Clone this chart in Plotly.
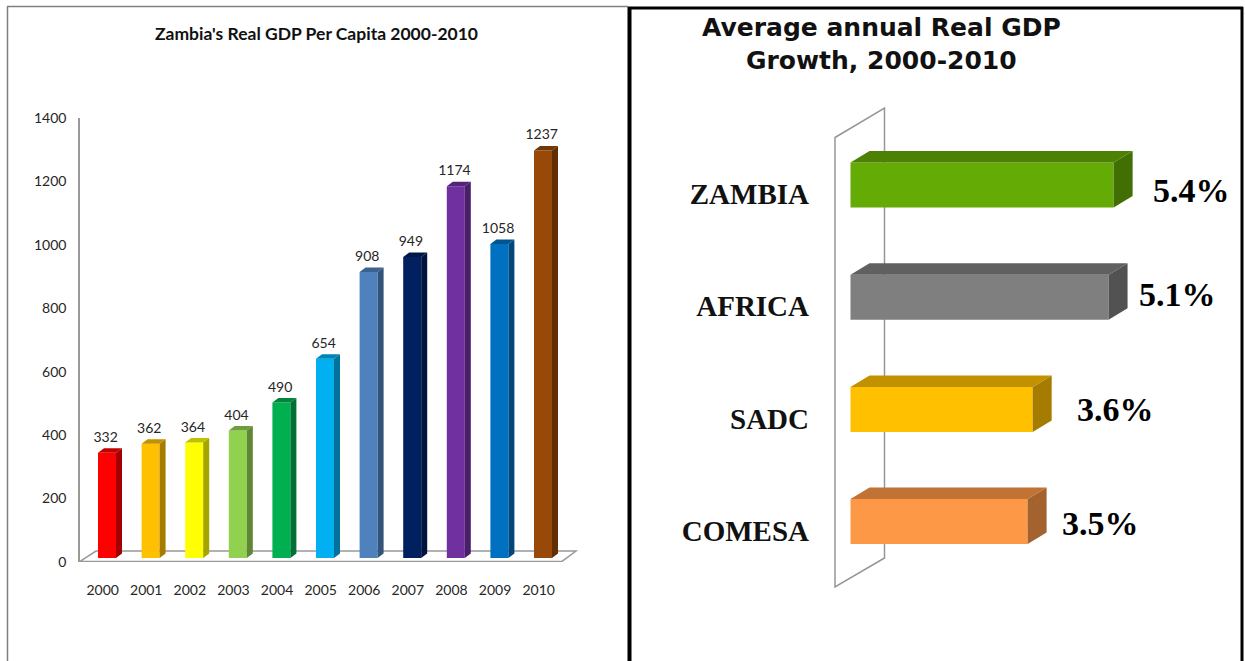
import plotly.graph_objects as go

# ---------- data ----------
years = [2000, 2001, 2002, 2003, 2004, 2005, 2006, 2007, 2008, 2009, 2010]
gdp_labels = [332, 362, 364, 404, 490, 654, 908, 949, 1174, 1058, 1237]
# heights as actually drawn in the picture (the source is not exactly to scale)
gdp_drawn = [332, 360, 364, 402, 490, 628, 902, 949, 1172, 990, 1285]
gdp_colors = ["#FF0000", "#FFC000", "#FFFF00", "#92D050", "#00B050", "#00B0F0",
              "#4F81BD", "#002060", "#7030A0", "#0070C0", "#984807"]

regions = ["ZAMBIA", "AFRICA", "SADC", "COMESA"]
growth_labels = ["5.4%", "5.1%", "3.6%", "3.5%"]
growth_drawn = [5.2, 5.1, 3.6, 3.5]
growth_colors = ["#64AB05", "#7F7F7F", "#FFC000", "#FD9847"]

# ---------- layout helpers ----------
W, H = 1245, 661
def px(v): return v / W
def py(v): return (H - v) / H

def shade(hex_color, f):
    r, g, b = (int(hex_color[i:i + 2], 16) for i in (1, 3, 5))
    return f"rgb({int(r * f)},{int(g * f)},{int(b * f)})"

def darken_side(c): return shade(c, 0.65)
def darken_top(c): return shade(c, 0.76)

fig = go.Figure()

# ---------- left chart scales ----------
L_PX_PER_X = 43.6
L_PX_PER_Y = 444 / 1400
L_X0_PX = 107              # pixel of category 0 centre
L_LEFT, L_RIGHT = 80, 600
L_BASE = 4 / L_PX_PER_Y    # bars stand a little in front of the axis zero
L_W = 18 / L_PX_PER_X
L_DX = 6 / L_PX_PER_X
L_DY = 4.5 / L_PX_PER_Y
L_TEXT_LIFT = 3 / L_PX_PER_Y
idx = list(range(len(years)))

fig.add_trace(go.Bar(
    x=idx, y=gdp_drawn, base=L_BASE, width=L_W,
    marker=dict(color=gdp_colors, line=dict(width=0)),
    xaxis="x", yaxis="y", hoverinfo="skip", showlegend=False))

for i, h, c in zip(idx, gdp_drawn, gdp_colors):
    xl, xr = i - L_W / 2, i + L_W / 2
    yt = L_BASE + h
    fig.add_trace(go.Scatter(
        x=[xr, xr + L_DX, xr + L_DX, xr, xr],
        y=[L_BASE, L_BASE + L_DY, yt + L_DY, yt, L_BASE],
        fill="toself", fillcolor=darken_side(c), mode="none",
        xaxis="x", yaxis="y", showlegend=False, hoverinfo="skip"))
    fig.add_trace(go.Scatter(
        x=[xl, xl + L_DX, xr + L_DX, xr, xl],
        y=[yt, yt + L_DY, yt + L_DY, yt, yt],
        fill="toself", fillcolor=darken_top(c), mode="none",
        xaxis="x", yaxis="y", showlegend=False, hoverinfo="skip"))

fig.add_trace(go.Scatter(
    x=[i - 0.03 for i in idx],
    y=[L_BASE + h + L_DY + L_TEXT_LIFT for h in gdp_drawn],
    mode="text", text=[str(v) for v in gdp_labels], textposition="top center",
    textfont=dict(family="Lato", size=14, color="#262626"),
    xaxis="x", yaxis="y", showlegend=False, hoverinfo="skip"))

# ---------- right chart scales ----------
R_PX_PER_X = 50.6
R_PX_PER_Y = 112.2
R_X0_PX = 850.5
R_Y0_PX = 185
R_LEFT, R_RIGHT = 815, 1240
R_TOP, R_BOTTOM = 100, 600
R_H = 45 / R_PX_PER_Y
R_DX = 19 / R_PX_PER_X
R_DY = 11.5 / R_PX_PER_Y
ridx = list(range(len(regions)))

fig.add_trace(go.Bar(
    y=ridx, x=growth_drawn, width=R_H, orientation="h",
    marker=dict(color=growth_colors, line=dict(width=0)),
    xaxis="x2", yaxis="y2", hoverinfo="skip", showlegend=False))

for i, v, c in zip(ridx, growth_drawn, growth_colors):
    yt, yb = i - R_H / 2, i + R_H / 2
    fig.add_trace(go.Scatter(
        x=[v, v + R_DX, v + R_DX, v, v],
        y=[yb, yb - R_DY, yt - R_DY, yt, yb],
        fill="toself", fillcolor=darken_side(c), mode="none",
        xaxis="x2", yaxis="y2", showlegend=False, hoverinfo="skip"))
    fig.add_trace(go.Scatter(
        x=[0, R_DX, v + R_DX, v, 0],
        y=[yt, yt - R_DY, yt - R_DY, yt, yt],
        fill="toself", fillcolor=darken_top(c), mode="none",
        xaxis="x2", yaxis="y2", showlegend=False, hoverinfo="skip"))

label_nudge_px = [18, 9, 23, 13]
label_lift_px = [-5, 3, -0.5, -1.5]
annotations = []
for i, v, t, dx, dy in zip(ridx, growth_drawn, growth_labels, label_nudge_px, label_lift_px):
    annotations.append(dict(
        x=v + R_DX, y=i, xref="x2", yref="y2", text=f"<b>{t}</b>", showarrow=False,
        xanchor="left", yanchor="middle", xshift=dx, yshift=dy,
        font=dict(family="Liberation Serif", size=34, color="#000000")))

annotations += [
    dict(x=px(316), y=py(33), xref="paper", yref="paper", showarrow=False,
         xanchor="center", yanchor="middle",
         text="<b>Zambia's Real GDP Per Capita 2000-2010</b>",
         font=dict(family="Lato", size=17.5, color="#111111")),
    dict(x=px(881), y=py(28), xref="paper", yref="paper", showarrow=False,
         xanchor="center", yanchor="middle",
         text="<b>Average annual Real GDP</b>",
         font=dict(family="DejaVu Sans", size=25, color="#111111")),
    dict(x=px(881), y=py(60), xref="paper", yref="paper", showarrow=False,
         xanchor="center", yanchor="middle",
         text="<b>Growth, 2000-2010</b>",
         font=dict(family="DejaVu Sans", size=25, color="#111111")),
]

GREY = "#999999"
def lx(p): return (p - L_X0_PX) / L_PX_PER_X
def ly(p): return (562 - p) / L_PX_PER_Y
def rx(p): return (p - R_X0_PX) / R_PX_PER_X
def ry(p): return (p - R_Y0_PX) / R_PX_PER_Y

def poly(points, xf, yf):
    return "M" + " L".join(f"{xf(a)},{yf(b)}" for a, b in points) + " Z"

shapes = [
    # floor of the left chart
    dict(type="path", xref="x", yref="y", layer="below",
         path=poly([(80, 561.4), (562, 561.4), (576, 551), (96, 551)], lx, ly),
         line=dict(color=GREY, width=1.5)),
    # upright wall of the right chart
    dict(type="path", xref="x2", yref="y2", layer="below",
         path=poly([(835, 137.5), (884.5, 108), (884.5, 558), (835, 587)], rx, ry),
         line=dict(color="#969696", width=1.5)),
    # panel frames
    dict(type="line", xref="paper", yref="paper", x0=px(7.5), x1=px(7.5), y0=0, y1=py(6.5),
         line=dict(color="#808080", width=1.5)),
    dict(type="line", xref="paper", yref="paper", x0=px(7), x1=px(628), y0=py(6.5), y1=py(6.5),
         line=dict(color="#808080", width=1.5)),
    dict(type="line", xref="paper", yref="paper", x0=px(629.5), x1=px(629.5), y0=0, y1=py(7),
         line=dict(color="#000000", width=4)),
    dict(type="line", xref="paper", yref="paper", x0=px(628), x1=px(1243), y0=py(8), y1=py(8),
         line=dict(color="#000000", width=3)),
    dict(type="line", xref="paper", yref="paper", x0=px(1242), x1=px(1242), y0=0, y1=py(7),
         line=dict(color="#000000", width=3)),
]

fig.update_layout(
    width=W, height=H, autosize=False,
    margin=dict(l=0, r=0, t=0, b=0, pad=0),
    paper_bgcolor="white", plot_bgcolor="rgba(0,0,0,0)",
    barmode="overlay", showlegend=False,
    annotations=annotations, shapes=shapes,
    xaxis=dict(domain=[px(L_LEFT), px(L_RIGHT)], anchor="y", automargin=False,
               range=[lx(L_LEFT), lx(L_RIGHT)],
               tickmode="array", tickvals=[i - 0.1 for i in idx],
               ticktext=[str(y) for y in years],
               showgrid=False, zeroline=False, showline=False, ticks="",
               ticklabelstandoff=18,
               tickfont=dict(family="Lato", size=14, color="#262626")),
    yaxis=dict(domain=[py(562), py(118)], anchor="x", automargin=False,
               range=[0, 1400], tickmode="array",
               tickvals=[0, 200, 400, 600, 800, 1000, 1200, 1400],
               showgrid=False, zeroline=False,
               showline=True, linecolor=GREY, linewidth=1.5, ticks="",
               ticklabelstandoff=9,
               tickfont=dict(family="Lato", size=14, color="#262626")),
    xaxis2=dict(domain=[px(R_LEFT), px(R_RIGHT)], anchor="y2", automargin=False,
                range=[rx(R_LEFT), rx(R_RIGHT)],
                visible=False, showgrid=False, zeroline=False),
    yaxis2=dict(domain=[py(R_BOTTOM), py(R_TOP)], anchor="x2", automargin=False,
                range=[ry(R_BOTTOM), ry(R_TOP)],
                tickmode="array", tickvals=[i + 0.08 for i in ridx],
                ticktext=[f"<b>{r}</b>" for r in regions],
                showgrid=False, zeroline=False, showline=False, ticks="",
                ticklabelstandoff=5,
                tickfont=dict(family="Liberation Serif", size=29, color="#111111")),
)

fig.write_html("out.html", config={"displayModeBar": False},
               post_script="document.body.style.margin='0';")
